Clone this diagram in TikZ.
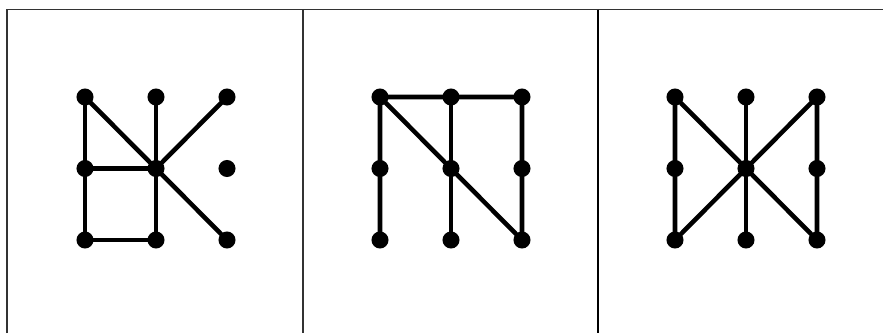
\documentclass[tikz,border=0pt]{standalone}
\usetikzlibrary{positioning}
\tikzset{
      dot/.style   = {circle, fill=black, inner sep=0pt, minimum size=12.8pt},
      link/.style  = {line width=3.4pt},
      frame/.style = {line width=1.1pt, black!80}
    }
\begin{document}
\begin{tikzpicture}[x=0.75pt,y=-0.75pt]
  \useasboundingbox (0,0) rectangle (883,333);
  % Frame lines
  \draw[frame] (7,333) -- (7,9.5) -- (883,9.5);
  \draw[frame] (303,9.5) -- (303,333);
  \draw[frame, line width=1.8pt, black] (598,9.5) -- (598,333);
  % Dot grids (column i, row j)
  \foreach \p/\xo in {a/85, b/380, c/675}
    \foreach \i in {1,2,3}
      \foreach \j in {1,2,3}
        \node[dot] (\p\i\j) at ({\xo+(\i-1)*71}, {97+(\j-1)*71.5}) {};
  % Left pattern
  \draw[link] (a11.center) -- (a13.center) -- (a23.center) -- (a21.center);
  \draw[link] (a11.center) -- (a33.center);
  \draw[link] (a31.center) -- (a22.center) -- (a12.center);
  % Middle pattern
  \draw[link] (b13.center) -- (b11.center) -- (b31.center) -- (b33.center) -- (b11.center);
  \draw[link] (b21.center) -- (b23.center);
  % Right pattern
  \draw[link] (c13.center) -- (c11.center) -- (c33.center) -- (c31.center) -- (c13.center);
  \draw[link] (c21.center) -- (c23.center);
\end{tikzpicture}
\end{document}
